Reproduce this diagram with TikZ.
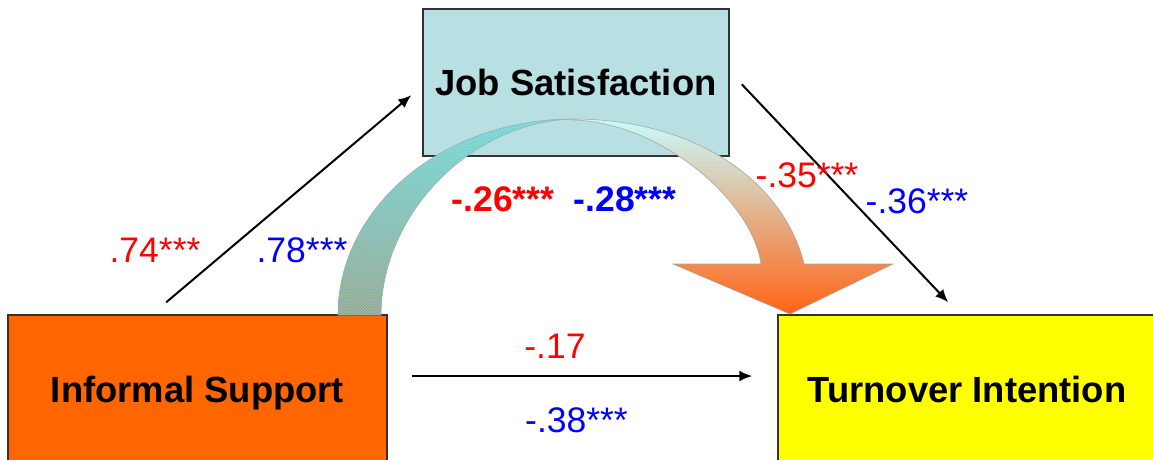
\documentclass[tikz,border=0pt]{standalone}
\usepackage{fontspec}
\setmainfont{Liberation Sans}
\usetikzlibrary{arrows.meta,patterns}
\definecolor{jsfill}{RGB}{184,224,226}
\definecolor{isfill}{RGB}{255,102,0}
\definecolor{tifill}{RGB}{255,255,0}
\definecolor{labred}{RGB}{255,0,0}
\definecolor{labblue}{RGB}{0,0,255}
\definecolor{bandtop}{RGB}{150,226,226}
\definecolor{bandbot}{RGB}{210,135,90}
\definecolor{hatch}{RGB}{105,212,212}
\definecolor{arrtop}{RGB}{200,252,252}
\definecolor{arrmid}{RGB}{228,206,196}
\definecolor{arrbot}{RGB}{255,100,20}
\tikzset{
  boxnode/.style={draw=black!80, line width=1.5pt, inner sep=0pt,
    text height=26pt, text depth=0pt,
    font=\bfseries\fontsize{36.4}{40}\selectfont},
  lab/.style={anchor=base, inner sep=0pt, font=\fontsize{35.5}{40}\selectfont},
  blab/.style={lab, font=\bfseries\fontsize{35.5}{40}\selectfont},
  conn/.style={line width=2pt, -{Latex[length=13pt,width=11pt]}},
  bandline/.style={draw=gray!70, line width=0.6pt}
}
\begin{document}
\begin{tikzpicture}[x=1pt,y=-1pt]
\useasboundingbox (0,0) rectangle (1153,459);
\clip (0,0) rectangle (1153,459);
% boxes
\node[boxnode, fill=jsfill, minimum width=306pt, minimum height=147pt] (JS) at (576,82.5) {Job Satisfaction};
\node[boxnode, fill=isfill, minimum width=379pt, minimum height=148pt] (IS) at (197.5,389) {Informal Support};
\node[boxnode, fill=tifill, minimum width=378pt, minimum height=148pt] (TI) at (967,389) {Turnover Intention};
% curved band: back (left) part
\path[bandline, top color=bandtop, bottom color=bandbot,
      postaction={pattern=crosshatch, pattern color=hatch}]
  (338,315) .. controls (338,207) and (443,119) .. (573,119)
  .. controls (470,122) and (381,215) .. (381,315) -- cycle;
% curved band: front (right) part with arrowhead
\path[bandline, top color=arrtop, middle color=arrmid, bottom color=arrbot]
  (573,119) .. controls (700,119) and (785,185) .. (804,264)
  -- (893,264) -- (790,314) -- (673,264) -- (761,264)
  .. controls (752,200) and (660,122) .. (573,120) -- cycle;
% connectors
\draw[conn] ([xshift=159pt,yshift=12pt]IS.north west) -- ([xshift=-11pt,yshift=-87pt]JS.north west);
\draw[conn] ([xshift=12pt,yshift=-76pt]JS.north east) -- ([xshift=171pt,yshift=12pt]TI.north west);
\draw[conn] ([xshift=24pt,yshift=13pt]IS.east) -- ([xshift=-25pt,yshift=13pt]TI.west);
% labels
\node[lab, text=labred] (l1) at (155,262) {.74***};
\node[lab, text=labblue] (l2) at (302,262) {.78***};
\node[blab, text=labred] (l3) at (503,211) {-.26***};
\node[blab, text=labblue] (l4) at (625,211) {-.28***};
\node[lab, text=labred] (l5) at (807,187) {-.35***};
\node[lab, text=labblue] (l6) at (917,213) {-.36***};
\node[lab, text=labred] (l7) at (555,358) {-.17};
\node[lab, text=labblue] (l8) at (576.5,432) {-.38***};
\end{tikzpicture}
\end{document}
